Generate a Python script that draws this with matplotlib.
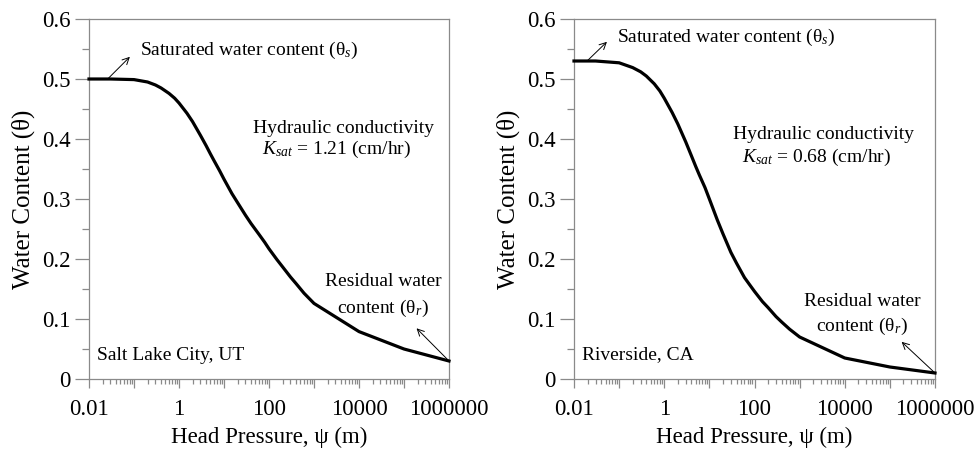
import numpy as np
import matplotlib
matplotlib.use('Agg')
import matplotlib.pyplot as plt
from matplotlib.ticker import FixedLocator, FuncFormatter, MultipleLocator

plt.rcParams['font.family'] = ['Liberation Serif', 'DejaVu Serif']
plt.rcParams['mathtext.fontset'] = 'custom'
plt.rcParams['mathtext.rm'] = 'Liberation Serif'
plt.rcParams['mathtext.it'] = 'Liberation Serif:italic'

# head pressure (m)
psi = [0.01, 0.03, 0.1, 0.2, 0.3, 0.4, 0.6, 0.8, 1, 1.5, 2, 3, 4, 5, 6, 8, 10,
       15, 20, 30, 40, 60, 80, 100, 150, 200, 300, 400, 600,
       1000, 10000, 100000, 1000000]
# water content, Salt Lake City
theta_slc = [0.500, 0.500, 0.499, 0.495, 0.490, 0.485, 0.476, 0.468, 0.460, 0.443,
             0.429, 0.406, 0.389, 0.375, 0.364, 0.347, 0.333,
             0.309, 0.294, 0.273, 0.259, 0.241, 0.228, 0.217, 0.199, 0.187, 0.170,
             0.159, 0.143, 0.126, 0.079, 0.050, 0.030]
# water content, Riverside
theta_riv = [0.530, 0.530, 0.527, 0.519, 0.512, 0.505, 0.492, 0.480, 0.468, 0.444,
             0.425, 0.395, 0.372, 0.354, 0.340, 0.319, 0.300,
             0.265, 0.242, 0.211, 0.193, 0.169, 0.156, 0.146, 0.129, 0.119, 0.104,
             0.095, 0.083, 0.070, 0.035, 0.020, 0.010]

sites = ['Salt Lake City, UT', 'Riverside, CA']
ksat = ['1.21', '0.68']

gray = '#8a8a8a'
fig = plt.figure(figsize=(9.76, 4.49), dpi=100)
ax1 = fig.add_axes([89/976, 70/449, 360/976, 360/449])
ax2 = fig.add_axes([574/976, 70/449, 361/976, 360/449])


def xfmt(v, pos):
    e = int(round(np.log10(v)))
    if e % 2:
        return ''
    return '%g' % v if v < 1 else '%d' % v


def setup(ax):
    ax.set_xscale('log')
    ax.set_xlim(0.01, 1e6)
    ax.set_ylim(0, 0.6)
    ax.xaxis.set_major_locator(FixedLocator([10.0**e for e in range(-2, 7)]))
    minors = [m * 10.0**e for e in range(-2, 6) for m in range(2, 10)]
    ax.xaxis.set_minor_locator(FixedLocator(minors))
    ax.xaxis.set_major_formatter(FuncFormatter(xfmt))
    ax.yaxis.set_major_locator(MultipleLocator(0.1))
    ax.yaxis.set_minor_locator(MultipleLocator(0.05))
    ax.yaxis.set_major_formatter(FuncFormatter(lambda v, p: '%g' % round(v, 2)))
    for s in ax.spines.values():
        s.set_color(gray)
        s.set_linewidth(0.9)
    ax.tick_params(axis='x', which='major', length=6.5, width=0.9, color=gray,
                   labelsize=16.5, pad=8)
    ax.tick_params(axis='x', which='minor', length=3.8, width=0.9, color=gray)
    ax.tick_params(axis='y', which='major', length=10, width=0.9, color=gray,
                   labelsize=16.5, pad=3)
    ax.tick_params(axis='y', which='minor', length=5, width=0.9, color=gray)
    ax.set_xlabel('Head Pressure, ψ (m)', fontsize=16.5, labelpad=5)
    ax.set_ylabel('Water Content (θ)', fontsize=18, labelpad=5)


arrow = dict(arrowstyle='->', color='black', lw=0.7, shrinkA=0, shrinkB=0,
             mutation_scale=12)

for i, (ax, theta) in enumerate([(ax1, theta_slc), (ax2, theta_riv)]):
    setup(ax)
    ax.plot(psi, theta, color='black', lw=2.3, clip_on=False, zorder=3,
            solid_joinstyle='round')

    if i == 0:
        sat_txt, sat_tail, sat_head = (0.136, 0.548), (0.026, 0.5), (0.081, 0.537)
        hyd, ks = (44, 0.418), (69, 0.382)
        res1, res2, res_head = (33900, 0.162), (34500, 0.118), (190000, 0.0845)
    else:
        sat_txt, sat_tail, sat_head = (0.0904, 0.57), (0.0195, 0.53), (0.0537, 0.562)
        hyd, ks = (34, 0.407), (54, 0.37)
        res1, res2, res_head = (24500, 0.129), (24500, 0.087), (182000, 0.062)

    ax.text(*sat_txt, 'Saturated water content (θ$_s$)', fontsize=14, va='center')
    ax.annotate('', xy=sat_head, xytext=sat_tail, arrowprops=arrow)
    ax.text(*hyd, 'Hydraulic conductivity', fontsize=14, va='center')
    ax.text(*ks, '$K_{sat}$ = %s (cm/hr)' % ksat[i], fontsize=14, va='center')
    ax.text(*res1, 'Residual water', fontsize=14, va='center', ha='center')
    ax.text(*res2, 'content (θ$_r$)', fontsize=14, va='center', ha='center')
    ax.annotate('', xy=res_head, xytext=(psi[-1], theta[-1]), arrowprops=arrow)
    ax.text(0.015, 0.04, sites[i], fontsize=14, va='center')

fig.savefig('out.png', dpi=100)
